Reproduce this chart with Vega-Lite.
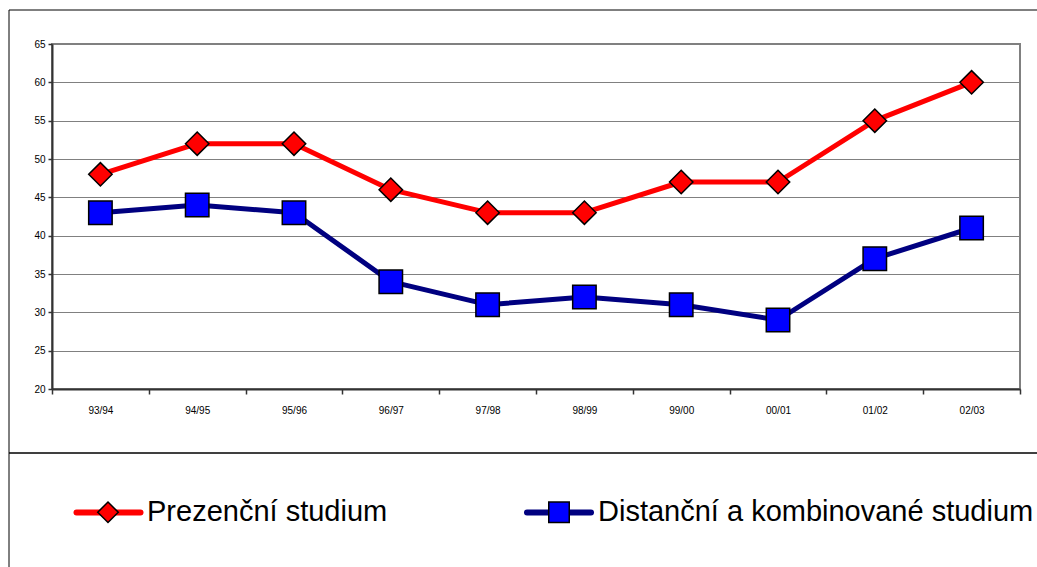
{
  "$schema": "https://vega.github.io/schema/vega-lite/v6.json",
  "width": 968,
  "height": 345,
  "autosize": {"type": "none"},
  "padding": {"left": 52, "top": 44, "right": 17, "bottom": 178},
  "background": "white",
  "config": {
    "font": "Liberation Sans",
    "view": {"stroke": "#808080", "strokeWidth": 2},
    "axis": {
      "labelFont": "Liberation Sans",
      "labelFontSize": 10,
      "labelColor": "black",
      "domainColor": "#333333",
      "domainWidth": 2,
      "tickColor": "#333333",
      "tickWidth": 1.5,
      "title": null
    },
    "legend": {"labelFont": "Liberation Sans", "labelColor": "black"}
  },
  "data": {
    "values": [
      {"year": "93/94", "series": "Prezenční studium", "value": 48},
      {"year": "94/95", "series": "Prezenční studium", "value": 52},
      {"year": "95/96", "series": "Prezenční studium", "value": 52},
      {"year": "96/97", "series": "Prezenční studium", "value": 46},
      {"year": "97/98", "series": "Prezenční studium", "value": 43},
      {"year": "98/99", "series": "Prezenční studium", "value": 43},
      {"year": "99/00", "series": "Prezenční studium", "value": 47},
      {"year": "00/01", "series": "Prezenční studium", "value": 47},
      {"year": "01/02", "series": "Prezenční studium", "value": 55},
      {"year": "02/03", "series": "Prezenční studium", "value": 60},
      {"year": "93/94", "series": "Distanční a kombinované studium", "value": 43},
      {"year": "94/95", "series": "Distanční a kombinované studium", "value": 44},
      {"year": "95/96", "series": "Distanční a kombinované studium", "value": 43},
      {"year": "96/97", "series": "Distanční a kombinované studium", "value": 34},
      {"year": "97/98", "series": "Distanční a kombinované studium", "value": 31},
      {"year": "98/99", "series": "Distanční a kombinované studium", "value": 32},
      {"year": "99/00", "series": "Distanční a kombinované studium", "value": 31},
      {"year": "00/01", "series": "Distanční a kombinované studium", "value": 29},
      {"year": "01/02", "series": "Distanční a kombinované studium", "value": 37},
      {"year": "02/03", "series": "Distanční a kombinované studium", "value": 41}
    ]
  },
  "encoding": {
    "x": {
      "field": "year",
      "type": "ordinal",
      "sort": null,
      "bandPosition": 0.5,
      "scale": {"type": "band", "paddingInner": 0, "paddingOuter": 0},
      "axis": {"tickBand": "extent", "tickSize": 5, "labelPadding": 11, "labelAngle": 0, "grid": false}
    },
    "y": {
      "field": "value",
      "type": "quantitative",
      "scale": {"domain": [20, 65], "nice": false, "zero": false},
      "axis": {"values": [20, 25, 30, 35, 40, 45, 50, 55, 60, 65], "tickSize": 4, "labelPadding": 3, "grid": true, "gridColor": "#808080", "gridWidth": 1.2}
    }
  },
  "layer": [
    {
      "mark": {"type": "line", "strokeJoin": "round"},
      "encoding": {
        "stroke": {
          "field": "series",
          "type": "nominal",
          "scale": {"domain": ["Prezenční studium", "Distanční a kombinované studium"], "range": ["#FF0000", "#000080"]},
          "legend": {
            "orient": "none",
            "legendX": -43.5,
            "legendY": 408.5,
            "direction": "horizontal",
            "title": null,
            "symbolType": "stroke",
            "symbolSize": 4096,
            "symbolStrokeWidth": 6,
            "symbolOffset": 40,
            "labelFontSize": 29,
            "labelExpr": "''",
            "labelOffset": 5,
            "columnPadding": 335.5,
            "clipHeight": 70,
            "padding": 25,
            "zindex": 1,
            "encode": {"symbols": {"update": {"strokeCap": {"value": "round"}}}}
          }
        },
        "strokeWidth": {
          "field": "series",
          "type": "nominal",
          "scale": {"range": [5, 5]},
          "legend": {
            "orient": "none",
            "legendX": -43.5,
            "legendY": 408.5,
            "direction": "horizontal",
            "title": null,
            "symbolSize": 100,
            "symbolOpacity": 0,
            "labelExpr": "''",
            "labelFontSize": 10,
            "columnPadding": 900,
            "padding": 60,
            "strokeColor": "black",
            "zindex": 0
          }
        },
        "opacity": {
          "field": "series",
          "type": "nominal",
          "scale": {"domain": ["Distanční a kombinované studium", "Prezenční studium"], "range": [1, 1]},
          "legend": {
            "orient": "none",
            "legendX": -43.5,
            "legendY": -34.5,
            "direction": "horizontal",
            "title": null,
            "symbolSize": 100,
            "symbolStrokeWidth": 0,
            "symbolOpacity": 0,
            "labelExpr": "''",
            "labelFontSize": 10,
            "columnPadding": 600,
            "padding": 216.5,
            "strokeColor": "black",
            "zindex": 0
          }
        }
      }
    },
    {
      "mark": {"type": "point", "filled": true, "size": 550, "stroke": "black", "strokeWidth": 1.5, "opacity": 1},
      "encoding": {
        "fill": {
          "field": "series",
          "type": "nominal",
          "sort": "descending",
          "scale": {"range": ["#FF0000", "#0000FF"]},
          "legend": {
            "orient": "none",
            "legendX": 41.5,
            "legendY": 453.5,
            "direction": "horizontal",
            "title": null,
            "symbolSize": 420,
            "symbolStrokeColor": "black",
            "symbolStrokeWidth": 1.5,
            "labelFontSize": 29,
            "labelLimit": 1000,
            "labelOffset": 24.5,
            "columnPadding": 157,
            "padding": 0,
            "zindex": 2
          }
        },
        "shape": {
          "field": "series",
          "type": "nominal",
          "sort": "descending",
          "scale": {"range": ["diamond", "square"]}
        }
      }
    }
  ]
}
